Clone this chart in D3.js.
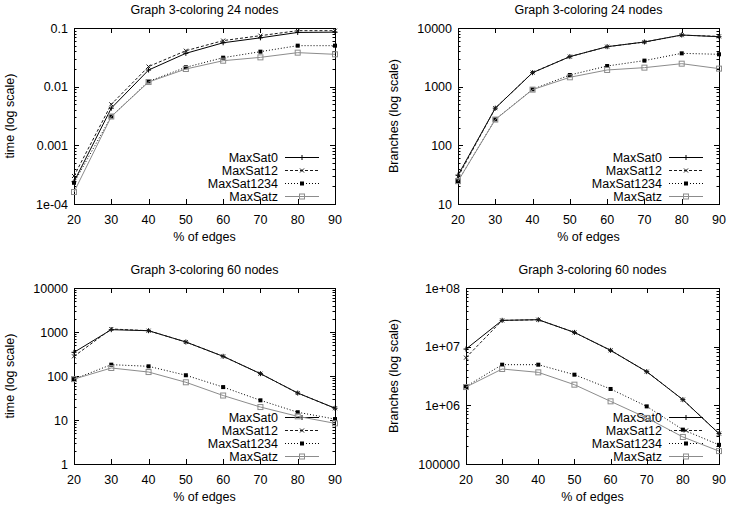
<!DOCTYPE html>
<html><head><meta charset="utf-8">
<script src="https://cdn.jsdelivr.net/npm/d3@7"></script>
<style>
html,body{margin:0;padding:0;background:#fff;}
svg text{font-family:"Liberation Sans",Arial,Helvetica,sans-serif;fill:#000;}
</style></head>
<body><svg id="chart" width="730" height="505"></svg>
<script>
// ---------- data ----------
const edges = [20, 30, 40, 50, 60, 70, 80, 90];
const seriesNames = ["MaxSat0", "MaxSat12", "MaxSat1234", "MaxSatz"];

// Graph 3-coloring 24 nodes, time (s)
const time24_MaxSat0    = [2.4e-4, 0.0043, 0.0192, 0.037, 0.056, 0.068, 0.084, 0.085];
const time24_MaxSat12   = [3.0e-4, 0.0050, 0.0220, 0.041, 0.061, 0.074, 0.090, 0.090];
const time24_MaxSat1234 = [2.3e-4, 0.0031, 0.0123, 0.0214, 0.0312, 0.0395, 0.050, 0.050];
const time24_MaxSatz    = [1.6e-4, 0.0031, 0.0120, 0.0200, 0.0277, 0.0316, 0.038, 0.0356];

// Graph 3-coloring 24 nodes, branches
const branch24_MaxSat0    = [31, 430, 1730, 3250, 4800, 5770, 7600, 7100];
const branch24_MaxSat12   = [29, 430, 1740, 3250, 4800, 5760, 7550, 7200];
const branch24_MaxSat1234 = [24.5, 277, 900, 1580, 2250, 2780, 3700, 3560];
const branch24_MaxSatz    = [24.5, 275, 890, 1445, 1925, 2110, 2465, 2030];

// Graph 3-coloring 60 nodes, time (s)
const time60_MaxSat0    = [345, 1130, 1070, 593, 280, 113, 41, 18.5];
const time60_MaxSat12   = [280, 1170, 1070, 593, 280, 113, 41, 18.5];
const time60_MaxSat1234 = [85, 181, 166, 104, 56, 28, 15, 10.5];
const time60_MaxSatz    = [85, 152, 123, 72, 36, 19.7, 12.1, 8.4];

// Graph 3-coloring 60 nodes, branches
const branch60_MaxSat0    = [9.1e6, 2.81e7, 2.88e7, 1.75e7, 8.66e6, 3.75e6, 1.25e6, 3.3e5];
const branch60_MaxSat12   = [6.5e6, 2.80e7, 2.88e7, 1.75e7, 8.66e6, 3.75e6, 1.25e6, 3.3e5];
const branch60_MaxSat1234 = [2.1e6, 4.93e6, 4.93e6, 3.33e6, 1.9e6, 9.6e5, 3.85e5, 2.12e5];
const branch60_MaxSatz    = [2.05e6, 4.16e6, 3.65e6, 2.25e6, 1.17e6, 6.1e5, 2.89e5, 1.66e5];

// tick labels
const xTickLabels = ["20", "30", "40", "50", "60", "70", "80", "90"];
const time24Ticks = [1e-4, 1e-3, 1e-2, 1e-1];
const time24TickLabels = ["1e-04", "0.001", "0.01", "0.1"];
const branch24Ticks = [10, 100, 1000, 10000];
const branch24TickLabels = ["10", "100", "1000", "10000"];
const time60Ticks = [1, 10, 100, 1000, 10000];
const time60TickLabels = ["1", "10", "100", "1000", "10000"];
const branch60Ticks = [1e5, 1e6, 1e7, 1e8];
const branch60TickLabels = ["100000", "1e+06", "1e+07", "1e+08"];

const titles = ["Graph 3-coloring 24 nodes", "Graph 3-coloring 24 nodes",
                "Graph 3-coloring 60 nodes", "Graph 3-coloring 60 nodes"];
const yTitles = ["time (log scale)", "Branches (log scale)", "time (log scale)", "Branches (log scale)"];
const xTitle = "% of edges";

// ---------- layout / styles ----------
const panels = [
  {title: titles[0], yTitle: yTitles[0], ticks: time24Ticks, tickLabels: time24TickLabels,
   series: [time24_MaxSat0, time24_MaxSat12, time24_MaxSat1234, time24_MaxSatz],
   left: 74, right: 335, top: 28, bottom: 204, yTitleX: 9},
  {title: titles[1], yTitle: yTitles[1], ticks: branch24Ticks, tickLabels: branch24TickLabels,
   series: [branch24_MaxSat0, branch24_MaxSat12, branch24_MaxSat1234, branch24_MaxSatz],
   left: 458, right: 719, top: 28, bottom: 204, yTitleX: 393},
  {title: titles[2], yTitle: yTitles[2], ticks: time60Ticks, tickLabels: time60TickLabels,
   series: [time60_MaxSat0, time60_MaxSat12, time60_MaxSat1234, time60_MaxSatz],
   left: 74, right: 335, top: 288, bottom: 464, yTitleX: 9},
  {title: titles[3], yTitle: yTitles[3], ticks: branch60Ticks, tickLabels: branch60TickLabels,
   series: [branch60_MaxSat0, branch60_MaxSat12, branch60_MaxSat1234, branch60_MaxSatz],
   left: 466, right: 719, top: 288, bottom: 464, yTitleX: 393}
];

const styles = [
  {color: "#000", dash: null, marker: "plus"},
  {color: "#1a1a1a", dash: "3,2", marker: "cross"},
  {color: "#000", dash: "1,2", marker: "fsquare"},
  {color: "#8c8c8c", dash: null, marker: "osquare"}
];

const FS = 12.5;
const svg = d3.select("#chart");

function drawMarker(g, type, x, y, color) {
  if (type === "plus") {
    g.append("path").attr("d", `M${x-2.5},${y}H${x+2.5}M${x},${y-2.5}V${y+2.5}`)
      .attr("stroke", color).attr("stroke-width", 1).attr("fill", "none");
  } else if (type === "cross") {
    g.append("path").attr("d", `M${x-2},${y-2}L${x+2},${y+2}M${x-2},${y+2}L${x+2},${y-2}`)
      .attr("stroke", color).attr("stroke-width", 1).attr("fill", "none");
  } else if (type === "fsquare") {
    g.append("rect").attr("x", x-2).attr("y", y-2).attr("width", 4).attr("height", 4)
      .attr("fill", color);
  } else if (type === "osquare") {
    g.append("rect").attr("x", x-2.5).attr("y", y-2.5).attr("width", 5).attr("height", 5)
      .attr("fill", "none").attr("stroke", color).attr("stroke-width", 1);
  }
}

panels.forEach(p => {
  const g = svg.append("g");
  const x = d3.scaleLinear().domain([d3.min(edges), d3.max(edges)]).range([p.left, p.right]);
  const y = d3.scaleLog().domain([d3.min(p.ticks), d3.max(p.ticks)]).range([p.bottom, p.top]);
  const cx = (p.left + p.right) / 2, cy = (p.top + p.bottom) / 2;

  // title
  g.append("text").attr("x", cx).attr("y", p.top - 14).attr("text-anchor", "middle")
    .attr("font-size", FS).text(p.title);

  // frame
  g.append("rect").attr("x", p.left + 0.5).attr("y", p.top + 0.5)
    .attr("width", p.right - p.left).attr("height", p.bottom - p.top)
    .attr("fill", "none").attr("stroke", "#000").attr("stroke-width", 1);

  // x ticks (bottom + mirrored top)
  const xTicks = g.append("g");
  edges.forEach((e, i) => {
    const px = Math.round(x(e)) + 0.5;
    xTicks.append("path").attr("d", `M${px},${p.bottom}v-5M${px},${p.top}v5`)
      .attr("stroke", "#000").attr("stroke-width", 1);
    xTicks.append("text").attr("x", x(e)).attr("y", p.bottom + 20).attr("text-anchor", "middle")
      .attr("font-size", FS).text(xTickLabels[i]);
  });
  g.append("text").attr("x", cx).attr("y", p.bottom + 36.5).attr("text-anchor", "middle")
    .attr("font-size", FS).text(xTitle);

  // y ticks: major + minor, left and mirrored right
  const yt = g.append("g");
  const lo = Math.log10(d3.min(p.ticks)), hi = Math.log10(d3.max(p.ticks));
  for (let d = lo; d < hi; d++) {
    for (let k = 2; k <= 9; k++) {
      const v = k * Math.pow(10, d);
      const py = Math.round(y(v)) + 0.5;
      yt.append("path").attr("d", `M${p.left},${py}h2.5M${p.right},${py}h-2.5`)
        .attr("stroke", "#000").attr("stroke-width", 1);
    }
  }
  p.ticks.forEach((t, i) => {
    const py = Math.round(y(t)) + 0.5;
    yt.append("path").attr("d", `M${p.left},${py}h5M${p.right},${py}h-5`)
      .attr("stroke", "#000").attr("stroke-width", 1);
    yt.append("text").attr("x", p.left - 6).attr("y", y(t)).attr("dy", "0.36em")
      .attr("text-anchor", "end").attr("font-size", FS).text(p.tickLabels[i]);
  });

  // y title
  g.append("text").attr("transform", `translate(${p.yTitleX},${cy}) rotate(-90)`)
    .attr("dy", "0.36em").attr("text-anchor", "middle").attr("font-size", FS).text(p.yTitle);

  // legend
  const lg = g.append("g");
  seriesNames.forEach((name, i) => {
    const ly = p.bottom - 47 + i * 13;
    const st = styles[i];
    lg.append("text").attr("x", p.right - 57).attr("y", ly).attr("dy", "0.36em")
      .attr("text-anchor", "end").attr("font-size", FS).text(name);
    const l = lg.append("line").attr("x1", p.right - 50).attr("x2", p.right - 16)
      .attr("y1", ly + 0.5).attr("y2", ly + 0.5).attr("stroke", st.color).attr("stroke-width", 1);
    if (st.dash) l.attr("stroke-dasharray", st.dash);
    drawMarker(lg, st.marker, p.right - 33, ly + 0.5, st.color);
  });

  // series
  const line = d3.line().x((d, i) => x(edges[i])).y(d => y(d));
  p.series.forEach((vals, i) => {
    const st = styles[i];
    const path = g.append("path").datum(vals).attr("d", line)
      .attr("fill", "none").attr("stroke", st.color).attr("stroke-width", 1);
    if (st.dash) path.attr("stroke-dasharray", st.dash);
    vals.forEach((v, j) => drawMarker(g, st.marker, x(edges[j]), y(v), st.color));
  });
});
</script></body></html>
